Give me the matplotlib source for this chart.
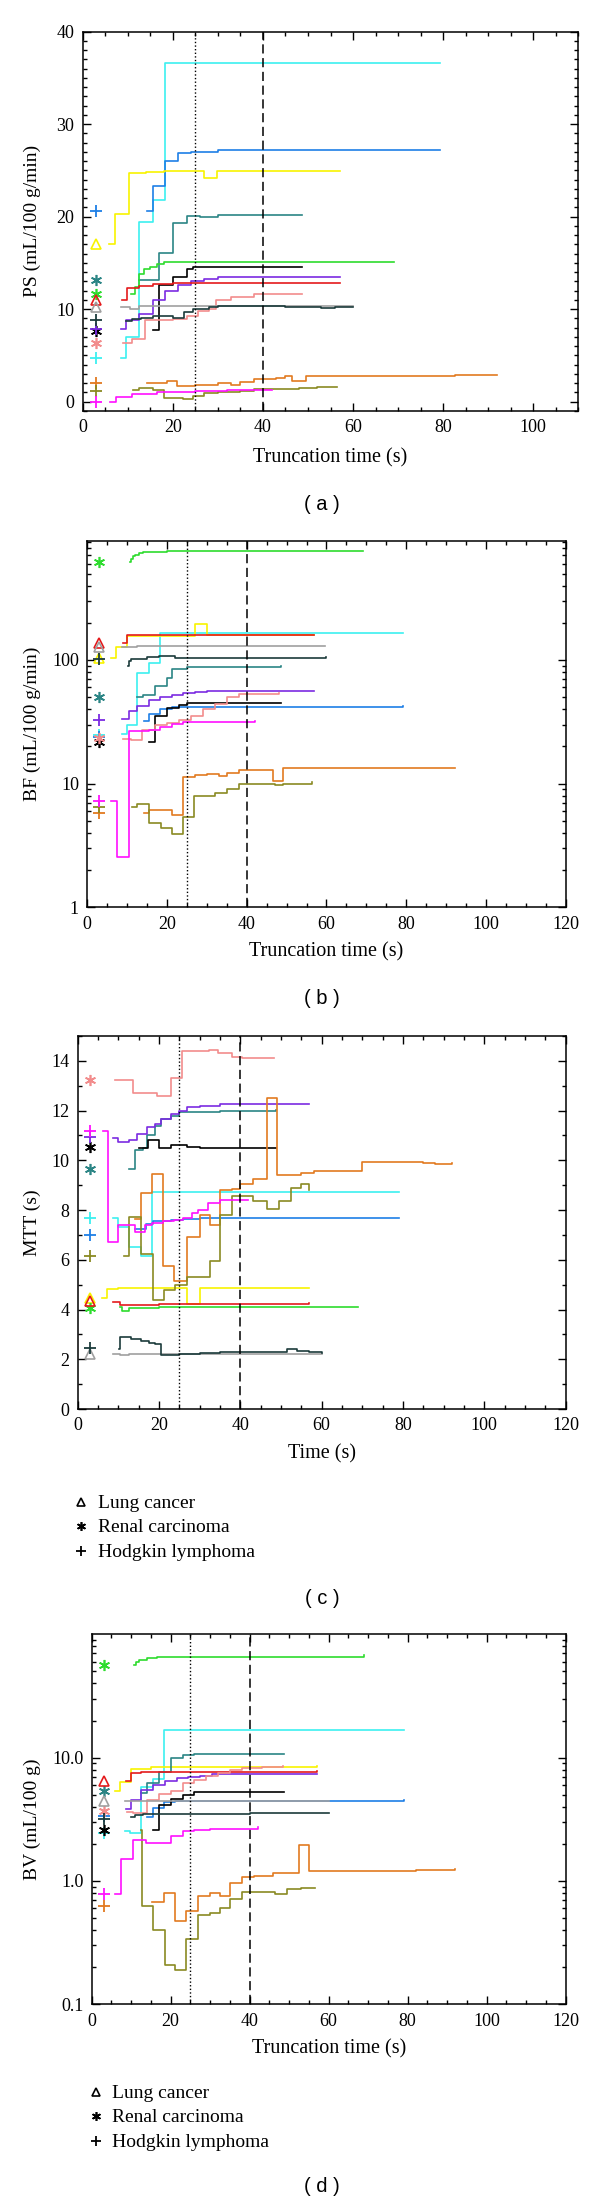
import matplotlib
matplotlib.use('Agg')
import matplotlib.pyplot as plt
from matplotlib.ticker import MultipleLocator, LogLocator, NullFormatter, FixedLocator, FixedFormatter
from matplotlib.lines import Line2D

plt.rcParams['font.family'] = ['Liberation Serif', 'DejaVu Serif']

# series order (one colour per patient) and tumour type of each
colors = ['#3CF0F0', '#1E7FE6', '#F8F400', '#2B8585', '#2EDC2E', '#000000', '#7B2BE2',
          '#E41A1C', '#F28C8C', '#A0A0A0', '#1B3B3B', '#E27A20', '#8A8A22', '#FF10FF']
groups = ['H', 'H', 'L', 'R', 'R', 'R', 'H', 'L', 'R', 'L', 'H', 'H', 'H', 'H']
legend_groups = ['L', 'R', 'H']
legend_labels = ['Lung cancer', 'Renal carcinoma', 'Hodgkin lymphoma']

# ---- (a) PS ----
ps_t = [[8.5, 9.7, 12.5, 15.5, 18.2, 79.2],
        [14.2, 15.5, 18.2, 21.2, 24, 30, 79.2],
        [5.9, 7.2, 10.2, 14, 18, 27, 29.9, 57],
        [12.5, 17, 20, 23.1, 26, 30, 48.7],
        [10.8, 11.7, 12.5, 13.5, 15, 16.5, 18, 69],
        [15.5, 17, 20, 23.1, 24.5, 48.7],
        [8.5, 9.7, 12.5, 15.5, 18.2, 21.2, 24, 27, 30, 57],
        [8.7, 9.9, 12.5, 15.5, 20, 57],
        [9, 11, 13.8, 20, 23.1, 25.5, 28, 29.5, 33, 38, 48.7],
        [8.5, 10.5, 12.5, 60],
        [9.7, 11, 13, 15.5, 20, 22.5, 24.5, 28, 30, 45, 53, 56, 60],
        [14.2, 18.6, 20.9, 25, 30, 33, 35, 38, 43, 45, 46.5, 49.5, 82.6, 92],
        [11.2, 12.5, 15.5, 18.1, 22.3, 24.5, 27, 30, 33, 35, 38, 48, 52, 56.5],
        [6.05, 7.5, 10.9, 16.4, 20, 25, 32, 42]]
ps_v = [[4.7, 7.0, 19.4, 21.8, 36.6, 36.6],
        [20.6, 23.3, 26.0, 26.9, 27.0, 27.2, 27.2],
        [17.1, 20.3, 24.7, 24.8, 24.9, 24.2, 24.9, 24.9],
        [13.2, 16.1, 19.3, 20.1, 20.0, 20.2, 20.2],
        [11.6, 12.4, 13.8, 14.3, 14.6, 14.9, 15.1, 15.1],
        [7.8, 12.6, 13.5, 14.4, 14.6, 14.6],
        [7.9, 8.8, 9.5, 11.0, 12.0, 12.6, 13.0, 13.3, 13.45, 13.5],
        [11.0, 12.3, 12.5, 12.7, 12.8, 12.8],
        [6.4, 6.8, 8.8, 8.9, 9.3, 9.8, 10.0, 11.0, 11.3, 11.6, 11.6],
        [10.2, 10.0, 10.4, 10.4],
        [8.7, 8.9, 9.1, 9.3, 9.0, 9.7, 10.0, 10.2, 10.3, 10.2, 10.1, 10.2, 10.2],
        [2.05, 2.2, 1.7, 1.8, 2.0, 1.8, 2.1, 2.5, 2.6, 2.8, 2.2, 2.8, 2.9, 2.9],
        [1.25, 1.5, 1.25, 0.4, 0.25, 0.6, 0.9, 1.0, 1.1, 1.2, 1.4, 1.5, 1.6, 1.6],
        [0.0, 0.5, 0.85, 1.0, 1.1, 1.2, 1.3, 1.3]]
ps_mark = [4.7, 20.6, 17.0, 13.2, 11.7, 7.6, 7.9, 11.0, 6.4, 10.2, 8.8, 2.0, 1.2, 0.0]

# ---- (b) BF ----
bf_t = [[8.6, 10, 12.5, 15.5, 18.2, 79.1],
        [14.1, 15.5, 18.2, 21.2, 79.1],
        [6, 7.2, 10, 27, 30, 57],
        [12.5, 14, 17, 20, 21.2, 25, 48.7],
        [10.6, 11, 11.5, 12, 13, 14, 16, 20, 69.1],
        [15.5, 17, 20, 23, 25, 48.7],
        [8.6, 10.5, 12.5, 15.5, 18.2, 21.2, 24, 27, 30, 57],
        [9, 10, 57],
        [9, 11, 13.8, 17, 20, 23, 26, 29, 32, 35, 38, 48.2],
        [8.6, 12.5, 59.7],
        [10.1, 10.5, 11, 15, 18, 22, 30, 40, 50, 55, 60],
        [14.1, 15.5, 21.2, 24, 27, 30, 33, 35, 38, 46.5, 49.2, 92.2],
        [11.2, 12.5, 15.5, 18.5, 21.2, 24, 26.8, 32, 35, 38, 47, 49, 56.5],
        [6, 7.5, 10.5, 15.5, 18.2, 21.2, 24, 42]]
bf_v = [[25, 30, 78, 95, 165, 165],
        [32, 36.7, 40.5, 42, 42.2],
        [104, 128, 157, 197, 160, 160],
        [50, 52, 62, 72, 84, 88, 89],
        [620, 660, 690, 710, 730, 745, 752, 758, 760],
        [21.7, 35.5, 40.8, 43.5, 45, 45],
        [33.4, 38.7, 42.7, 47.2, 50, 52, 54, 55, 56, 56.5],
        [137, 158, 158],
        [23, 22.5, 27, 30, 31, 33, 35, 40, 44, 50, 53, 54.5],
        [128, 130, 130],
        [90, 98, 102, 105, 107, 104, 104, 104, 103, 104, 105],
        [5.75, 6.1, 5.6, 11.3, 11.7, 12.0, 11.6, 12.3, 13.0, 10.6, 13.3, 13.5],
        [6.5, 6.9, 4.8, 4.4, 3.9, 5.4, 8.0, 8.4, 9.0, 10.0, 9.7, 10.0, 10.4],
        [7.3, 2.55, 26.8, 27, 28.5, 30.5, 31.5, 32]]
bf_mark = [24.6, 24.0, 103, 50, 617, 21.7, 32.5, 137, 23.3, 128, 102, 5.75, 6.5, 7.3]

# ---- (c) MTT ----
mtt_t = [[8.75, 10, 12.5, 15.5, 18.2, 79.1],
         [14.2, 16.8, 18.5, 23, 26, 30, 79.1],
         [5.9, 7.2, 10, 27, 30, 57],
         [12.5, 14, 16, 17, 19, 20.5, 23, 25, 27, 35, 48.7],
         [10.35, 11, 12.5, 14, 20, 69],
         [15, 17.2, 20, 22.9, 27, 30, 48.7],
         [8.75, 10, 12.5, 14.5, 17, 19, 20.5, 23, 25, 27, 30, 35, 57],
         [8.75, 10.5, 12.5, 20, 57],
         [9.2, 13.5, 19.6, 22.9, 25.7, 32.3, 34.6, 37.9, 40.3, 48.3],
         [8.75, 10.5, 12.5, 60],
         [10.2, 10.5, 13, 15.5, 17.5, 19, 20.5, 25, 30, 35, 45, 51.5, 54, 57, 60],
         [14.1, 15.5, 18.2, 21, 23.8, 26.8, 30, 32.5, 35, 38, 40, 43, 46.5, 49, 52, 55, 58, 70, 85, 88, 92],
         [11.3, 12.5, 15.5, 18.5, 21.2, 24, 27, 32.5, 35, 38, 43, 46.5, 49.6, 52.4, 55, 57],
         [6.2, 7.5, 10, 14.2, 16.5, 18.2, 21, 23.8, 26, 28, 29.5, 32, 35, 42]]
mtt_v = [[7.67, 7.3, 6.5, 6.15, 8.74, 8.74],
         [7.25, 7.45, 7.55, 7.6, 7.65, 7.67, 7.67],
         [4.48, 4.82, 4.88, 4.22, 4.87, 4.87],
         [9.67, 10.4, 10.5, 11.0, 11.4, 11.65, 11.8, 11.95, 11.95, 12.0, 12.02],
         [4.1, 3.95, 4.05, 4.08, 4.1, 4.1],
         [10.5, 10.82, 10.49, 10.6, 10.55, 10.5, 10.5],
         [10.9, 10.75, 10.8, 11.05, 11.35, 11.45, 11.65, 11.85, 12.0, 12.15, 12.2, 12.25, 12.25],
         [4.32, 4.17, 4.2, 4.24, 4.25],
         [13.25, 12.7, 12.57, 13.3, 14.4, 14.42, 14.3, 14.17, 14.1, 14.1],
         [2.22, 2.17, 2.2, 2.2],
         [2.41, 2.9, 2.82, 2.75, 2.65, 2.6, 2.18, 2.2, 2.25, 2.28, 2.3, 2.4, 2.35, 2.3, 2.25],
         [7.65, 8.69, 9.46, 5.77, 5.13, 6.92, 7.82, 7.41, 8.8, 8.85, 9.05, 9.26, 12.51, 9.43, 9.4, 9.5, 9.59, 9.95, 9.9, 9.85, 9.9],
         [6.15, 7.74, 6.23, 4.38, 4.79, 4.97, 5.3, 5.95, 7.8, 8.55, 8.35, 8.05, 8.35, 8.9, 9.05, 8.8],
         [11.18, 6.72, 7.38, 7.12, 7.4, 7.5, 7.55, 7.6, 7.7, 7.9, 8.02, 8.3, 8.4, 8.4]]
mtt_mark = [7.67, 7.0, 4.48, 9.67, 4.05, 10.54, 10.93, 4.33, 13.24, 2.2, 2.44, None, 6.15, 11.18]

# ---- (d) BV ----
bv_t = [[8.5, 9.7, 12.5, 15.5, 18.2, 79.1],
        [14.1, 15.5, 18.2, 21, 79.1],
        [6, 7.2, 10, 15, 57],
        [12.6, 14, 17, 20, 23, 26, 48.7],
        [10.7, 11.2, 12.1, 14, 16.5, 69],
        [15.5, 17, 20, 23, 26, 48.7],
        [8.7, 10, 12.5, 15.5, 18.5, 21.5, 24.5, 27.5, 30.5, 57],
        [8.7, 10, 12.5, 20, 57],
        [9, 10.5, 14, 17, 20, 23, 26, 29, 32, 35, 38, 43, 48.5],
        [8.5, 60],
        [10, 11, 13, 20, 40, 60],
        [15.3, 18.2, 21.2, 24, 27, 30, 32.5, 35, 38, 41, 46, 49, 52.5, 55, 82, 92],
        [12.5, 12.8, 15.5, 18.5, 21.2, 24, 27, 30, 32.5, 35, 38, 46.5, 49.5, 53, 56.5],
        [6, 7.5, 10.5, 13.8, 17, 20, 23, 26, 30, 42]]
bv_v = [[2.52, 2.45, 5.8, 6.7, 16.9, 16.9],
        [3.3, 3.9, 4.35, 4.45, 4.5],
        [5.4, 6.3, 8.1, 8.4, 8.5],
        [5.2, 6.2, 7.6, 9.9, 10.6, 10.8, 10.8],
        [56.5, 59.4, 62, 64.5, 66, 67.5],
        [2.6, 4.15, 4.65, 5.0, 5.25, 5.25],
        [3.8, 4.5, 5.5, 6.0, 6.5, 6.8, 7.0, 7.15, 7.3, 7.35],
        [6.5, 7.45, 7.6, 7.7, 7.75],
        [3.6, 3.55, 4.55, 5.05, 5.4, 6.2, 6.6, 7.05, 7.5, 7.95, 8.2, 8.45, 8.5],
        [4.43, 4.48],
        [3.3, 3.45, 3.5, 3.52, 3.55, 3.57],
        [0.68, 0.8, 0.47, 0.57, 0.75, 0.8, 0.75, 0.97, 1.07, 1.1, 1.17, 1.15, 1.97, 1.2, 1.23, 1.25],
        [2.6, 0.63, 0.4, 0.21, 0.19, 0.34, 0.53, 0.55, 0.6, 0.72, 0.82, 0.79, 0.86, 0.88, 0.88],
        [0.78, 1.52, 2.14, 2.03, 2.05, 2.33, 2.52, 2.6, 2.66, 2.72]]
bv_mark = [2.45, 3.35, None, 5.33, 56.5, 2.6, None, 6.5, 3.72, 4.43, 3.2, 0.63, None, 0.78]

mark_x = 3.0
cut_short, cut_long = 25, 40

W, H = 600, 2202
fig = plt.figure(figsize=(W / 100, H / 100), dpi=100)


def box(l, t, r, b):
    return [l / W, 1 - b / H, (r - l) / W, (b - t) / H]


def marker_style(g, c, scale=1.0):
    if g == 'L':
        return dict(marker='^', ms=7 * scale, mfc='none', mec=c, mew=1.2)
    if g == 'R':
        return dict(marker=(6, 2, 0), ms=8 * scale, mec=c, mew=1.2)
    return dict(marker='+', ms=9 * scale, mec=c, mew=1.3)


def draw(ax, times, values, marks):
    for i in range(len(colors)):
        ax.step(times[i], values[i], where='post', color=colors[i], lw=1.2)
    for i in range(len(colors)):
        if marks[i] is not None:
            ax.plot([mark_x], [marks[i]], ls='none', **marker_style(groups[i], colors[i]))
    ax.axvline(cut_short, color='k', lw=1.0, ls=(0, (1, 1.6)))
    ax.axvline(cut_long, color='k', lw=1.1, ls=(0, (6, 3)))


def style(ax):
    ax.tick_params(which='both', direction='in', top=True, right=True, labelsize=13, width=1.0)
    ax.tick_params(which='major', length=6, pad=6)
    ax.tick_params(which='minor', length=3)
    for s in ax.spines.values():
        s.set_linewidth(1.1)
    ax.xaxis.set_major_locator(MultipleLocator(20))
    ax.xaxis.set_minor_locator(MultipleLocator(5))


def texts(xlab, xlab_x, xlab_y, ylab, ylab_y, tag, tag_y):
    fig.text(xlab_x / W, 1 - xlab_y / H, xlab, ha='center', va='center', fontsize=14.5)
    fig.text(32 / W, 1 - ylab_y / H, ylab, ha='center', va='center', rotation=90, fontsize=14)
    fig.text(322 / W, 1 - tag_y / H, tag, ha='center', va='center', fontsize=14.5,
             family=['Liberation Sans', 'DejaVu Sans'])


def legend(mark_left, text_left, first_row):
    for k in range(len(legend_labels)):
        y = 1 - (first_row + 24.6 * k) / H
        fig.add_artist(Line2D([mark_left / W], [y], transform=fig.transFigure, ls='none',
                              **marker_style(legend_groups[k], 'k', 0.8)))
        fig.text(text_left / W, y - 6 / H, legend_labels[k], ha='left', va='baseline', fontsize=14)


# (a)
ax = fig.add_axes(box(82.7, 31.7, 578.3, 411))
draw(ax, ps_t, ps_v, ps_mark)
style(ax)
ax.set_xlim(0, 110)
ax.set_ylim(-1, 40)
ax.yaxis.set_major_locator(MultipleLocator(10))
ax.yaxis.set_minor_locator(MultipleLocator(1))
texts('Truncation time (s)', 330, 458, 'PS (mL/100 g/min)', 221, '( a )', 505)

# (b)
ax = fig.add_axes(box(87.3, 541.4, 565.6, 907.3))
draw(ax, bf_t, bf_v, bf_mark)
style(ax)
ax.set_yscale('log')
ax.set_xlim(0, 120)
ax.set_ylim(1, 910)
ax.yaxis.set_major_locator(FixedLocator([1, 10, 100]))
ax.yaxis.set_major_formatter(FixedFormatter(['1', '10', '100']))
ax.yaxis.set_minor_locator(LogLocator(base=10, subs=range(2, 10)))
ax.yaxis.set_minor_formatter(NullFormatter())
texts('Truncation time (s)', 326, 952, 'BF (mL/100 g/min)', 724, '( b )', 999)

# (c)
ax = fig.add_axes(box(77.7, 1036, 565.6, 1409))
draw(ax, mtt_t, mtt_v, mtt_mark)
style(ax)
ax.set_xlim(0, 120)
ax.set_ylim(0, 15)
ax.yaxis.set_major_locator(MultipleLocator(2))
ax.yaxis.set_minor_locator(MultipleLocator(1))
texts('Time (s)', 322, 1453.5, 'MTT (s)', 1223, '( c )', 1598)
legend(81, 97.7, 1501.7)

# (d)
ax = fig.add_axes(box(91.7, 1634.3, 565.6, 2004.3))
draw(ax, bv_t, bv_v, bv_mark)
style(ax)
ax.set_yscale('log')
ax.set_xlim(0, 120)
ax.set_ylim(0.1, 100)
ax.yaxis.set_major_locator(FixedLocator([0.1, 1, 10]))
ax.yaxis.set_major_formatter(FixedFormatter(['0.1', '1.0', '10.0']))
ax.yaxis.set_minor_locator(LogLocator(base=10, subs=range(2, 10)))
ax.yaxis.set_minor_formatter(NullFormatter())
texts('Truncation time (s)', 329, 2049, 'BV (mL/100 g)', 1819, '( d )', 2186)
legend(95.7, 112.3, 2091.5)

fig.savefig('out.png', dpi=100)
